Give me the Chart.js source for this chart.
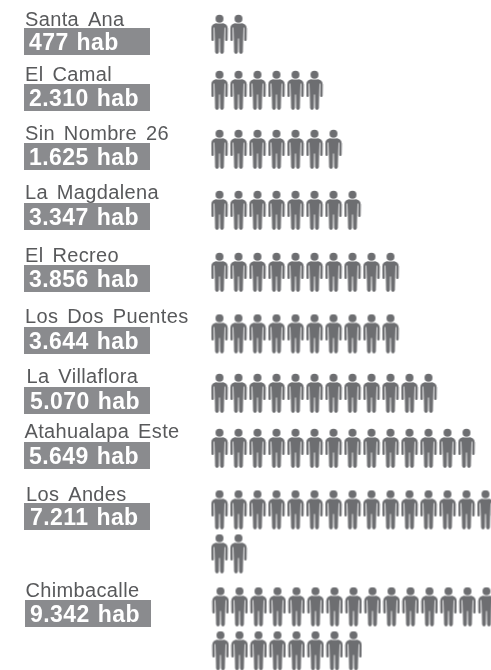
<!DOCTYPE html>
<html lang="es">
<head>
<meta charset="utf-8">
<title>Habitantes por barrio</title>
<style>html,body{margin:0;padding:0;background:#fff}canvas{display:block}</style>
<script src="https://cdn.jsdelivr.net/npm/chart.js@4"></script>
</head>
<body>
<canvas id="c" width="491" height="670"></canvas>
<script>
// Data
const neighbourhoods = ['Santa Ana','El Camal','Sin Nombre 26','La Magdalena','El Recreo','Los Dos Puentes','La Villaflora','Atahualapa Este','Los Andes','Chimbacalle'];
const inhabitants = [477,2310,1625,3347,3856,3644,5070,5649,7211,9342];
const personIcons = [2,6,7,8,10,10,12,14,17,23];

// Layout of the pictogram rows (not data)
const iconsPerLine = 15;
const lineGap = 44;
const rowFirstLineY = [34.5,90.5,149.5,210.5,272.5,334,393.5,448.5,510,607];
const rowColumnShift = [0,0,0,0,0,0,0,0,0,0.05];
const boxTop = [28,84,143,203,265,327,387,442,503,600];
const boxLeft = [24,24,24,24,24,24,24,24,24,25];
const nameX = [25,25,25,25,25,25,26.5,24.5,26,25.5];
const nameBase = [26,81,140,199,262,323,383,438,501,597];
const valueX = [29,29,29,29,29,29,30,29,30,30];
const valueBase = [49.5,106,165,225,287,349,408.5,464,525,622];

const personIcon = (() => {
  const cv = document.createElement('canvas');
  cv.width = 18; cv.height = 41;
  const g = cv.getContext('2d');
  g.filter = 'blur(0.3px)';
  g.fillStyle = g.strokeStyle = '#6d6e71';
  g.translate(0.5, 0.5);
  g.beginPath(); g.arc(8.5, 4.2, 4, 0, Math.PI * 2); g.fill();
  // torso and legs
  g.beginPath();
  g.moveTo(4.5, 9); g.lineTo(12.5, 9);
  g.quadraticCurveTo(13.6, 9.2, 13.6, 11);
  g.lineTo(13.2, 24); g.lineTo(12.9, 37.6);
  g.quadraticCurveTo(12.7, 39.4, 11, 39.4);
  g.quadraticCurveTo(9.2, 39.4, 9.1, 37.6);
  g.lineTo(8.9, 24); g.lineTo(8.1, 24);
  g.lineTo(7.9, 37.6);
  g.quadraticCurveTo(7.8, 39.4, 6, 39.4);
  g.quadraticCurveTo(4.3, 39.4, 4.1, 37.6);
  g.lineTo(3.8, 24); g.lineTo(3.4, 11);
  g.quadraticCurveTo(3.4, 9.2, 4.5, 9);
  g.fill();
  // arms
  g.lineWidth = 2.4; g.lineCap = 'round';
  g.beginPath(); g.moveTo(5, 10.2); g.quadraticCurveTo(1.6, 10.8, 1.5, 14); g.lineTo(1.6, 25.2); g.stroke();
  g.beginPath(); g.moveTo(12, 10.2); g.quadraticCurveTo(15.4, 10.8, 15.5, 14); g.lineTo(15.4, 25.2); g.stroke();
  return cv;
})();

const points = [];
personIcons.forEach((n, r) => {
  for (let i = 0; i < n; i++) {
    points.push({
      x: (i % iconsPerLine) + rowColumnShift[r],
      y: rowFirstLineY[r] + Math.floor(i / iconsPerLine) * lineGap
    });
  }
});

const fmt = v => String(v).replace(/\B(?=(\d{3})+$)/g, '.');

const labelsPlugin = {
  id: 'rowLabels',
  beforeDatasetsDraw(chart) {
    const { ctx, scales: { y } } = chart;
    ctx.save();
    ctx.fillStyle = '#8a8b8e';
    boxTop.forEach((t, i) => {
      const top = y.getPixelForValue(t);
      ctx.fillRect(boxLeft[i], top, 126, y.getPixelForValue(t + 27) - top);
    });
    ctx.textBaseline = 'alphabetic'; ctx.textAlign = 'left';
    ctx.fillStyle = '#58595b';
    ctx.font = '20px "Liberation Sans", Arial, sans-serif';
    ctx.letterSpacing = '0.35px';
    ctx.wordSpacing = '3px';
    neighbourhoods.forEach((s, i) => ctx.fillText(s, nameX[i], y.getPixelForValue(nameBase[i])));
    ctx.fillStyle = '#ffffff';
    ctx.font = 'bold 23px "Liberation Sans", Arial, sans-serif';
    ctx.letterSpacing = '0.45px';
    ctx.wordSpacing = '1px';
    inhabitants.forEach((v, i) => ctx.fillText(fmt(v) + ' hab', valueX[i], y.getPixelForValue(valueBase[i])));
    ctx.restore();
  }
};

new Chart(document.getElementById('c'), {
  type: 'scatter',
  data: { datasets: [{
    label: 'Habitantes',
    data: points,
    pointStyle: personIcon,
    pointRadius: 9,
    pointHoverRadius: 9,
    showLine: false,
    clip: false
  }]},
  options: {
    responsive: false,
    animation: false,
    layout: { padding: 0, autoPadding: false },
    plugins: { legend: { display: false }, tooltip: { enabled: false } },
    events: [],
    scales: {
      x: { type: 'linear', display: false, min: -219.5 / 19, max: (491 - 219.5) / 19 },
      y: { type: 'linear', display: false, min: 0, max: 670, reverse: true }
    }
  },
  plugins: [labelsPlugin]
});
</script>
</body>
</html>
